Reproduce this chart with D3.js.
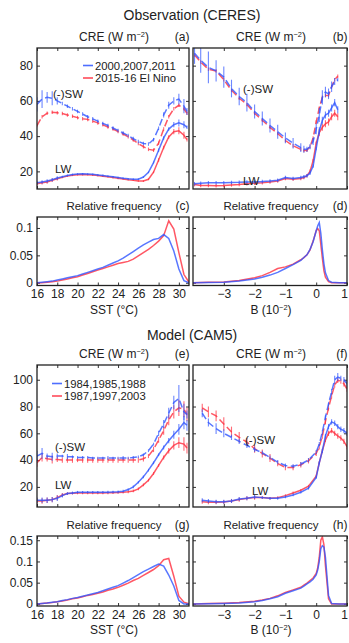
<!DOCTYPE html>
<html><head><meta charset="utf-8">
<script src="https://cdn.jsdelivr.net/npm/d3@7"></script>
<style>
body{margin:0;background:#fff}
svg{display:block}
text{font-family:"Liberation Sans",Arial,Helvetica,sans-serif;fill:#222}
</style>
</head><body>
<svg id="chart" width="349" height="643"></svg>
<script>
// ---------------- DATA ----------------
// SST bins (°C) for CRE panels (a),(e)
const sstCRE = [16,16.5,17,17.5,18,18.5,19,19.5,20,20.5,21,21.5,22,22.5,23,23.5,24,24.5,25,25.5,26,26.5,27,27.5,28,28.5,29,29.5,30,30.5,30.8];
// (a) Observation, CRE vs SST
const obsSWblue = [58,61,62,61.5,60,58.5,57,55.5,54,52.5,51,49.8,48.5,47.2,46,44.6,43.2,41.8,40.3,38.6,37,35.8,35.5,38,44.5,52,57.5,60,61,57,54];
const obsSWred  = [46,51,53,53.5,53.3,52.8,52,51.3,50.5,49.9,49.5,48.5,47.5,46.4,45.2,44,42.6,41.2,39.6,37.8,35.8,34,32.5,32,36,44,51,55.5,57.5,55.5,53];
const obsLWblue = [13.5,14,14.5,15.3,16.2,17,17.7,18.2,18.5,18.6,18.5,18.3,18,17.7,17.3,16.9,16.5,16.1,15.8,15.6,15.6,16.8,19.5,25,32,39,44,46.5,47.5,46.5,45];
const obsLWred  = [13,13.5,14,15,15.8,16.6,17.3,17.8,18.1,18.2,18.1,17.9,17.6,17.3,16.9,16.5,16.1,15.7,15.3,15,14.6,14.5,15.5,19.5,26.5,33.5,39.5,42.5,43,40.5,38];
const obsSWblueErr = [4,5,3,4,2,1,1,1,1,1,1,1,1,1,1,1,1,1,1,1,1,1,1,1,1,1.5,2,2,3,4,2];
const obsSWredErr  = [1,1,1,1,1,1,1,1,1,1,1,1,1,1,1,1,1,1,1,1,1,1,1,1,1,1,1,1,1,1,1];
const obsLWErr     = [1,1,1,1,1,0.5,0.5,0.5,0.5,0.5,0.5,0.5,0.5,0.5,0.5,0.5,0.5,0.5,0.5,0.5,0.5,0.5,0.5,0.5,1,1,1,1.5,2,2,1];

// B bins (10^-2) for panel (b)
const bCRE = [-3.95,-3.75,-3.5,-3.25,-3,-2.75,-2.5,-2.25,-2,-1.75,-1.5,-1.25,-1,-0.75,-0.5,-0.4,-0.3,-0.2,-0.1,0,0.1,0.2,0.3,0.4,0.5,0.6,0.7];
const obsBSWblue = [87,83,79,77,73.5,67,62.5,59,54,50,46,42.5,39,36,33.5,32.5,32.5,34,37,44,52,62,65,64,68,71,72];
const obsBSWred  = [86,82,78,77,72,66,61.5,58,53,49,45,41.5,37.5,34.5,32.5,31.8,32,34,39,48,56,62,63,63,68,72,74];
const obsBLWblue = [13,13.3,13.5,13.5,13.5,13.7,13.8,14,14,14.2,14.5,15,16.5,16,16.5,17,17.5,19,23,33,43,49,52,53,56,59,55];
const obsBLWred  = [12.5,12,12,11.8,12,12.3,12.5,13,13.3,13.5,14,14.5,16,15.5,16,16.5,17.5,20,26,36,42,45,47,48,51,53,51];
const obsBSWblueErr = [6,7,9,6,6,5,5,5,4,4,4,4,3,3,2.5,2,1.5,1.5,2,3,4,4,3,3,3,2,1];
const obsBSWredErr  = [1,1,1,1,1,1,1,1,1,1,1,1,1,1,1,1,1,1,1,1,1,1,1,1,1,1,1];
const obsBLWErr     = [1,1,1,1,1,1,1,1,1,1,1,1,1,1,1,1,1,1,1,1,2,2,2,2,2,2,2];

// Relative frequency vs SST (c),(g)
const sstFreq = [16,16.5,17,17.5,18,18.5,19,19.5,20,20.5,21,21.5,22,22.5,23,23.5,24,24.5,25,25.5,26,26.5,27,27.5,28,28.5,29,29.5,30,30.5,31];
const obsFreqBlue = [0,0.001,0.002,0.003,0.005,0.007,0.009,0.011,0.013,0.016,0.019,0.022,0.025,0.028,0.032,0.036,0.040,0.045,0.051,0.057,0.063,0.069,0.074,0.079,0.081,0.088,0.081,0.058,0.025,0.004,0];
const obsFreqRed  = [0,0,0.001,0.002,0.003,0.005,0.007,0.009,0.011,0.014,0.017,0.020,0.023,0.026,0.029,0.032,0.035,0.037,0.039,0.043,0.049,0.055,0.061,0.068,0.076,0.086,0.113,0.098,0.055,0.015,0.001];
const modFreqBlue = [0,0.001,0.002,0.004,0.005,0.008,0.010,0.013,0.015,0.018,0.021,0.024,0.027,0.031,0.035,0.039,0.043,0.049,0.055,0.062,0.069,0.076,0.082,0.088,0.094,0.089,0.068,0.042,0.008,0,0];
const modFreqRed  = [0,0.001,0.002,0.003,0.005,0.007,0.009,0.012,0.014,0.017,0.020,0.022,0.025,0.028,0.032,0.035,0.039,0.044,0.049,0.055,0.060,0.067,0.074,0.081,0.090,0.104,0.107,0.065,0.018,0.004,0];

// Relative frequency vs B (d),(h)
const bFreq = [-4,-3.5,-3,-2.5,-2,-1.75,-1.5,-1.25,-1,-0.75,-0.5,-0.4,-0.3,-0.2,-0.1,0,0.05,0.1,0.15,0.2,0.25,0.3,0.4,0.5,0.75,1];
const obsBFreqBlue = [0,0.0005,0.001,0.003,0.007,0.010,0.014,0.019,0.026,0.033,0.041,0.046,0.051,0.061,0.075,0.095,0.104,0.110,0.090,0.060,0.035,0.018,0.004,0.001,0,0];
const obsBFreqRed  = [0,0.0008,0.0015,0.004,0.009,0.013,0.019,0.026,0.029,0.034,0.042,0.046,0.051,0.060,0.076,0.095,0.099,0.095,0.070,0.045,0.022,0.010,0.002,0,0,0];
const modBFreqBlue = [0,0.0005,0.001,0.002,0.005,0.008,0.012,0.017,0.025,0.031,0.037,0.042,0.047,0.052,0.058,0.068,0.080,0.100,0.130,0.137,0.134,0.110,0.020,0.001,0,0];
const modBFreqRed  = [0,0.0008,0.0015,0.003,0.006,0.009,0.013,0.019,0.027,0.033,0.039,0.044,0.049,0.055,0.061,0.072,0.085,0.110,0.150,0.158,0.140,0.090,0.012,0,0,0];

// (e) Model, CRE vs SST
const modSWblue = [43,45,43,42.5,43,43,42.5,42.5,42,42,42,41.5,41.5,41.5,41.5,41.5,41.5,41.5,41.5,42,42.5,44,47,52,60,67,75,83,86,76,74];
const modSWred  = [38,42,41,40.5,40.5,40,40,40,40,40,40,40,40,40,40,40,40,40,40,40,40,41,43,48,55,62,70,76,79,78,74];
const modLWblue = [10,10,10,10.5,11.5,13.5,15,15.5,16,16,16,16,16,16,16.1,16.2,16.3,16.8,18,20,23.5,27.5,32.5,38,44,49.5,54.5,59,63,68,66];
const modLWred  = [9.5,9.5,10,10.5,12,14,15,15.3,15.5,15.5,15.5,15.5,15.5,15.5,15.6,15.7,15.8,16,16.3,17,18.5,21.5,25,30,36,42,47,51,53,52,49];
const modSWblueErr = [4,4,2,3,2,1,2,1,1,1,1,1,1,1,1.5,1,1,1.5,1,1,1,1,1,1,2,3,4,5,10,6,3];
const modSWredErr  = [3,3,2,3,2,2,2,2,1.5,2,2,2,2,2,2,2,2,2,2,2,2,2,1.5,2,2,3,4,5,6,6,5];
const modLWErr     = [2,2,2,2,2,1.5,1,1,1,1,1,1,1,1,1,1,1,1,1,1,1,1,1,1,1,1.5,2,3,4,5,4];

// (f) Model, CRE vs B
const bCREm = [-3.7,-3.5,-3.25,-3,-2.75,-2.5,-2.25,-2,-1.75,-1.5,-1.25,-1,-0.75,-0.5,-0.25,0,0.1,0.2,0.3,0.4,0.5,0.6,0.7,0.8,0.9,1.0];
const modBSWblue = [75,68,63.5,60,57,54,51,48,45.5,42,38.5,36,35.5,37,40,46,52,61,72,82,91,100,102,101,100,97];
const modBSWred  = [79,76,73,67,61,57,53.5,48.5,45,41.5,37.5,34.5,34.5,36.5,39.5,45,50,58,69,79,88,96,99.5,99,97,93];
const modBLWblue = [10,9.5,9,9,9.5,11,11.5,12.5,12,11.5,11.5,12.5,14,16,19,27,38,47,58,65,68.5,67.5,65,63,62,60];
const modBLWred  = [9,8.5,8.5,8.8,9.5,10.5,11.5,12,12,11.5,12,13.5,15.5,17.5,20.5,28,38,47,55,60,62,60,58,56.5,54,50];
const modBSWblueErr = [3,3,4,3,2,2,2,2,1.5,1.5,1.5,1.5,1.5,1.5,1.5,1.5,1.5,1.5,1.5,1.5,2,3,3,2,2,2];
const modBSWredErr  = [3,4,4,5,4,4,3,3,3,3,2,2,2,2,2,2,2,2,2,2,2,2,2,2,2,2];
const modBLWErr     = [1.5,1.5,1.5,1.5,1.5,1.5,1.5,1.5,1,1,1,1,1,1,1,1,1,1.5,1.5,2,2,2,2,2,2,2];

// tick values and labels
const sstTicks = [16,18,20,22,24,26,28,30];
const bTicks = [-3,-2,-1,0,1];
const bTickLabels = ["\u22123","\u22122","\u22121","0","1"];
const creTicksObs = [20,40,60,80];
const creTicksMod = [20,40,60,80,100];
const freqTicksObs = [0,0.05,0.1];
const freqTicksMod = [0,0.05,0.1,0.15];
const legendObs = ["2000,2007,2011","2015-16 El Nino"];
const legendMod = ["1984,1985,1988","1987,1997,2003"];

// ---------------- DRAWING ----------------
const svg = d3.select("#chart");
const BLUE = "#2f55ff", RED = "#ff2d3d";
const FS = 12;

function toPts(xs, ys, es) { return xs.map((x,i)=>({x:x, y:ys[i], e: es ? es[i] : 0})); }

function supText(g, x, y, anchor, pre, sup, post, size) {
  const t = g.append("text").attr("x",x).attr("y",y).attr("text-anchor",anchor).attr("font-size",size);
  t.append("tspan").text(pre);
  t.append("tspan").attr("font-size",size*0.62).attr("dy",-size*0.33).text(sup);
  t.append("tspan").attr("dy",size*0.33).text(post);
  return t;
}

function panel(o) {
  const g = svg.append("g");
  const x = d3.scaleLinear().domain(o.xd).range([o.x0, o.x1]);
  const y = d3.scaleLinear().domain(o.yd).range([o.y1, o.y0]);
  // axes (inside ticks, MATLAB style)
  const bottom = d3.axisBottom(x).tickValues(o.xt).tickSize(-3).tickPadding(4)
     .tickFormat(o.xLabels ? (d,i)=>o.xLabels[i] : "");
  const top = d3.axisTop(x).tickValues(o.xt).tickSize(-3).tickFormat("");
  const left = d3.axisLeft(y).tickValues(o.yt).tickSize(-3).tickPadding(4)
     .tickFormat(o.yLabels ? (d)=>String(d) : "");
  const right = d3.axisRight(y).tickValues(o.yt).tickSize(-3).tickFormat("");
  const axStyle = a => { a.select(".domain").remove(); a.selectAll("line").attr("stroke","#333");
     a.selectAll("text").attr("font-size",FS).attr("fill","#222").style("font-family",'"Liberation Sans",Arial,sans-serif'); };
  const bAx = g.append("g").attr("transform",`translate(0,${o.y1})`).call(bottom).call(axStyle);
  // keep the last tick label at the right edge inside the picture
  bAx.selectAll(".tick text").filter(d => x(d) > 344).attr("dx", -3);
  g.append("g").attr("transform",`translate(0,${o.y0})`).call(top).call(axStyle);
  g.append("g").attr("transform",`translate(${o.x0},0)`).call(left).call(axStyle);
  g.append("g").attr("transform",`translate(${o.x1},0)`).call(right).call(axStyle);

  const clipId = "clip" + Math.round(o.x0) + "_" + Math.round(o.y0);
  svg.append("clipPath").attr("id",clipId).append("rect")
     .attr("x",o.x0).attr("y",o.y0).attr("width",o.x1-o.x0).attr("height",o.y1-o.y0);
  const plot = g.append("g").attr("clip-path",`url(#${clipId})`);
  const line = d3.line().x(d=>x(d.x)).y(d=>y(d.y));
  o.series.forEach(s => {
    if (s.errs) {
      plot.append("g").selectAll("line").data(s.pts).join("line")
        .attr("x1",d=>x(d.x)).attr("x2",d=>x(d.x))
        .attr("y1",d=>y(d.y-d.e)).attr("y2",d=>y(d.y+d.e))
        .attr("stroke",s.color).attr("stroke-width",1.1).attr("opacity",0.7);
    }
    plot.append("path").datum(s.pts).attr("d",line).attr("fill","none")
      .attr("stroke",s.color).attr("stroke-width",1.5).attr("opacity",0.8)
      .attr("stroke-dasharray", s.dash ? "7,3.5" : null);
  });
  g.append("rect").attr("x",o.x0).attr("y",o.y0).attr("width",o.x1-o.x0).attr("height",o.y1-o.y0)
    .attr("fill","none").attr("stroke","#222").attr("stroke-width",1.3);
  // titles
  const cx = (o.x0+o.x1)/2 + 1;
  if (o.cre) supText(g, cx, o.y0-7, "middle", "CRE (W m", "\u22122", ")", FS);
  else g.append("text").attr("x",cx).attr("y",o.y0-7).attr("text-anchor","middle").attr("font-size",11.5).text("Relative frequency");
  g.append("text").attr("x",o.x1+0.5).attr("y",o.y0-7).attr("text-anchor","end").attr("font-size",FS).text(o.tag);
  if (o.xTitle === "sst") g.append("text").attr("x",cx).attr("y",o.y1+28).attr("text-anchor","middle").attr("font-size",FS).text("SST (\u00B0C)");
  if (o.xTitle === "b") supText(g, cx, o.y1+28, "middle", "B (10", "\u22122", ")", FS);
  (o.notes||[]).forEach(n => g.append("text").attr("x",n[1]).attr("y",n[2]).attr("font-size",11.5).text(n[0]));
  if (o.legend) {
    o.legend.forEach((lab,i) => {
      const ly = o.legendY + i*12.5;
      g.append("line").attr("x1",o.legendX).attr("x2",o.legendX+10).attr("y1",ly).attr("y2",ly)
        .attr("stroke", i===0?BLUE:RED).attr("stroke-width",1.6).attr("opacity",0.85);
      g.append("text").attr("x",o.legendX+12).attr("y",ly+4).attr("font-size",11.3).text(lab);
    });
  }
}

svg.append("text").attr("x",192).attr("y",20).attr("text-anchor","middle").attr("font-size",14).text("Observation (CERES)");
svg.append("text").attr("x",192).attr("y",340).attr("text-anchor","middle").attr("font-size",14).text("Model (CAM5)");

const L = {ax0:37, ax1:189, bx0:193, bx1:347};

// (a)
panel({x0:L.ax0,x1:L.ax1,y0:48,y1:189,xd:[16,31],yd:[10,90],xt:sstTicks,yt:creTicksObs,yLabels:true,cre:true,tag:"(a)",
  series:[
    {pts:toPts(sstCRE,obsSWred,obsSWredErr),color:RED,dash:true,errs:true},
    {pts:toPts(sstCRE,obsLWred,obsLWErr),color:RED,errs:true},
    {pts:toPts(sstCRE,obsSWblue,obsSWblueErr),color:BLUE,dash:true,errs:true},
    {pts:toPts(sstCRE,obsLWblue,obsLWErr),color:BLUE,errs:true}],
  notes:[["(-)SW",53,98],["LW",55,173]],
  legend:legendObs, legendX:83, legendY:65.5});
// (b)
panel({x0:L.bx0,x1:L.bx1,y0:48,y1:189,xd:[-4,1],yd:[10,90],xt:bTicks,yt:creTicksObs,cre:true,tag:"(b)",
  series:[
    {pts:toPts(bCRE,obsBSWred,obsBSWredErr),color:RED,dash:true,errs:true},
    {pts:toPts(bCRE,obsBLWred,obsBLWErr),color:RED,errs:true},
    {pts:toPts(bCRE,obsBSWblue,obsBSWblueErr),color:BLUE,dash:true,errs:true},
    {pts:toPts(bCRE,obsBLWblue,obsBLWErr),color:BLUE,errs:true}],
  notes:[["(-)SW",243,93],["LW",243,185]]});
// (c)
panel({x0:L.ax0,x1:L.ax1,y0:217,y1:285.5,xd:[16,31],yd:[-0.005,0.12],xt:sstTicks,xLabels:sstTicks.map(String),yt:freqTicksObs,yLabels:true,tag:"(c)",xTitle:"sst",
  series:[{pts:toPts(sstFreq,obsFreqRed),color:RED},{pts:toPts(sstFreq,obsFreqBlue),color:BLUE}]});
// (d)
panel({x0:L.bx0,x1:L.bx1,y0:217,y1:285.5,xd:[-4,1],yd:[-0.005,0.12],xt:bTicks,xLabels:bTickLabels,yt:freqTicksObs,tag:"(d)",xTitle:"b",
  series:[{pts:toPts(bFreq,obsBFreqRed),color:RED},{pts:toPts(bFreq,obsBFreqBlue),color:BLUE}]});
// (e)
panel({x0:L.ax0,x1:L.ax1,y0:365,y1:507,xd:[16,31],yd:[5,111],xt:sstTicks,yt:creTicksMod,yLabels:true,cre:true,tag:"(e)",
  series:[
    {pts:toPts(sstCRE,modSWred,modSWredErr),color:RED,dash:true,errs:true},
    {pts:toPts(sstCRE,modLWred,modLWErr),color:RED,errs:true},
    {pts:toPts(sstCRE,modSWblue,modSWblueErr),color:BLUE,dash:true,errs:true},
    {pts:toPts(sstCRE,modLWblue,modLWErr),color:BLUE,errs:true}],
  notes:[["(-)SW",55,451],["LW",55,489]],
  legend:legendMod, legendX:52, legendY:383.5});
// (f)
panel({x0:L.bx0,x1:L.bx1,y0:365,y1:507,xd:[-4,1],yd:[5,111],xt:bTicks,yt:creTicksMod,cre:true,tag:"(f)",
  series:[
    {pts:toPts(bCREm,modBSWred,modBSWredErr),color:RED,dash:true,errs:true},
    {pts:toPts(bCREm,modBLWred,modBLWErr),color:RED,errs:true},
    {pts:toPts(bCREm,modBSWblue,modBSWblueErr),color:BLUE,dash:true,errs:true},
    {pts:toPts(bCREm,modBLWblue,modBLWErr),color:BLUE,errs:true}],
  notes:[["(-)SW",245,444],["LW",252,495]]});
// (g)
panel({x0:L.ax0,x1:L.ax1,y0:536,y1:606,xd:[16,31],yd:[-0.005,0.16],xt:sstTicks,xLabels:sstTicks.map(String),yt:freqTicksMod,yLabels:true,tag:"(g)",xTitle:"sst",
  series:[{pts:toPts(sstFreq,modFreqRed),color:RED},{pts:toPts(sstFreq,modFreqBlue),color:BLUE}]});
// (h)
panel({x0:L.bx0,x1:L.bx1,y0:536,y1:606,xd:[-4,1],yd:[-0.005,0.16],xt:bTicks,xLabels:bTickLabels,yt:freqTicksMod,tag:"(h)",xTitle:"b",
  series:[{pts:toPts(bFreq,modBFreqRed),color:RED},{pts:toPts(bFreq,modBFreqBlue),color:BLUE}]});
</script>
</body></html>
